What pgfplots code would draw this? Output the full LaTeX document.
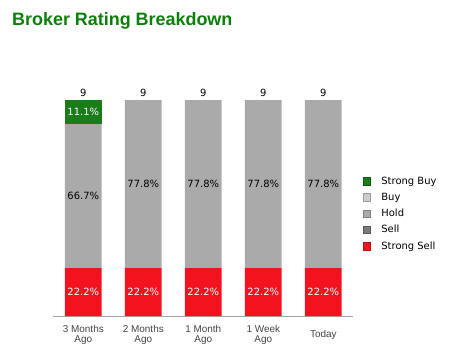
\documentclass[border=0pt]{standalone}
\usepackage{pgfplots}
\pgfplotsset{compat=1.18}
\usepackage{fontspec}
\setmainfont{DejaVu Sans}
\newfontfamily\arial{Liberation Sans}
\definecolor{sbuy}{HTML}{1A7D1A}
\definecolor{sbuyb}{HTML}{0E5A0E}
\definecolor{buy}{HTML}{CCCCCC}
\definecolor{hold}{HTML}{AAAAAA}
\definecolor{sell}{HTML}{7A7A7A}
\definecolor{ssell}{HTML}{F3131E}
\definecolor{ttl}{HTML}{0A7F0A}
\definecolor{tick}{HTML}{444444}
\begin{document}
\begin{tikzpicture}
\path[use as bounding box] (0,0) rectangle (468bp,352bp);
\node[anchor=base west, font=\arial\bfseries\fontsize{18}{20}\selectfont, text=ttl, inner sep=0] at (12bp,326bp) {Broker Rating Breakdown};
\begin{axis}[
  at={(52.7bp,36bp)}, anchor=south west,
  scale only axis, width=300.6bp, height=216bp,
  xmin=-0.51, xmax=4.5, ymin=0, ymax=9,
  enlargelimits=false, clip=false,
  ybar stacked, bar width=36.7bp,
  axis x line*=bottom, hide y axis,
  axis line style={-, draw=gray!70},
  xtick={0,1,2,3,4}, major tick length=0pt,
  xticklabels={{3 Months\\Ago},{2 Months\\Ago},{1 Month\\Ago},{1 Week\\Ago},{Today}},
  xticklabel style={font=\arial\fontsize{10}{10}\selectfont, text=tick, align=center, anchor=center, yshift=-19bp},
  legend reversed,
  legend style={at={(1.03,0.655)}, anchor=north west, draw=none, fill=none,
    font=\fontsize{10}{12}\selectfont, row sep=3.3bp, inner sep=0pt,
    /tikz/every odd column/.append style={column sep=9bp}},
  legend cell align=left,
  legend image code/.code={\draw[#1] (0bp,-3.8bp) rectangle (7.5bp,3.7bp);},
]
\addplot[fill=ssell, draw=none, legend image post style={draw=ssell!75!black}] coordinates {(0,2) (1,2) (2,2) (3,2) (4,2)};
\addplot[fill=sell, draw=none, legend image post style={draw=sell!75!black}] coordinates {(0,0) (1,0) (2,0) (3,0) (4,0)};
\addplot[fill=hold, draw=none, legend image post style={draw=hold!75!black}] coordinates {(0,6) (1,7) (2,7) (3,7) (4,7)};
\addplot[fill=buy, draw=none, legend image post style={draw=buy!75!black}] coordinates {(0,0) (1,0) (2,0) (3,0) (4,0)};
\addplot[fill=sbuy, draw=none, legend image post style={draw=sbuyb}] coordinates {(0,1) (1,0) (2,0) (3,0) (4,0)};
\legend{Strong Sell, Sell, Hold, Buy, Strong Buy}
\end{axis}
\begin{axis}[
  at={(52.7bp,36bp)}, anchor=south west,
  scale only axis, width=300.6bp, height=216bp,
  xmin=-0.51, xmax=4.5, ymin=0, ymax=9,
  enlargelimits=false, clip=false, hide axis,
  nodes near coords, point meta=explicit symbolic,
  nodes near coords style={font=\fontsize{10}{12}\selectfont, inner sep=0pt},
]
\addplot[draw=none, mark=none, nodes near coords align={center}, nodes near coords style={text=white}] table[meta=l] {
x y l
0 8.5 11.1\%
0 1 22.2\%
1 1 22.2\%
2 1 22.2\%
3 1 22.2\%
4 1 22.2\%
};
\addplot[draw=none, mark=none, nodes near coords align={center}, nodes near coords style={text=black}] table[meta=l] {
x y l
0 5 66.7\%
1 5.5 77.8\%
2 5.5 77.8\%
3 5.5 77.8\%
4 5.5 77.8\%
};
\addplot[draw=none, mark=none, nodes near coords align={south}, nodes near coords style={text=black, yshift=3.5bp}] table[meta=l] {
x y l
0 9 9
1 9 9
2 9 9
3 9 9
4 9 9
};
\end{axis}
\end{tikzpicture}
\end{document}
